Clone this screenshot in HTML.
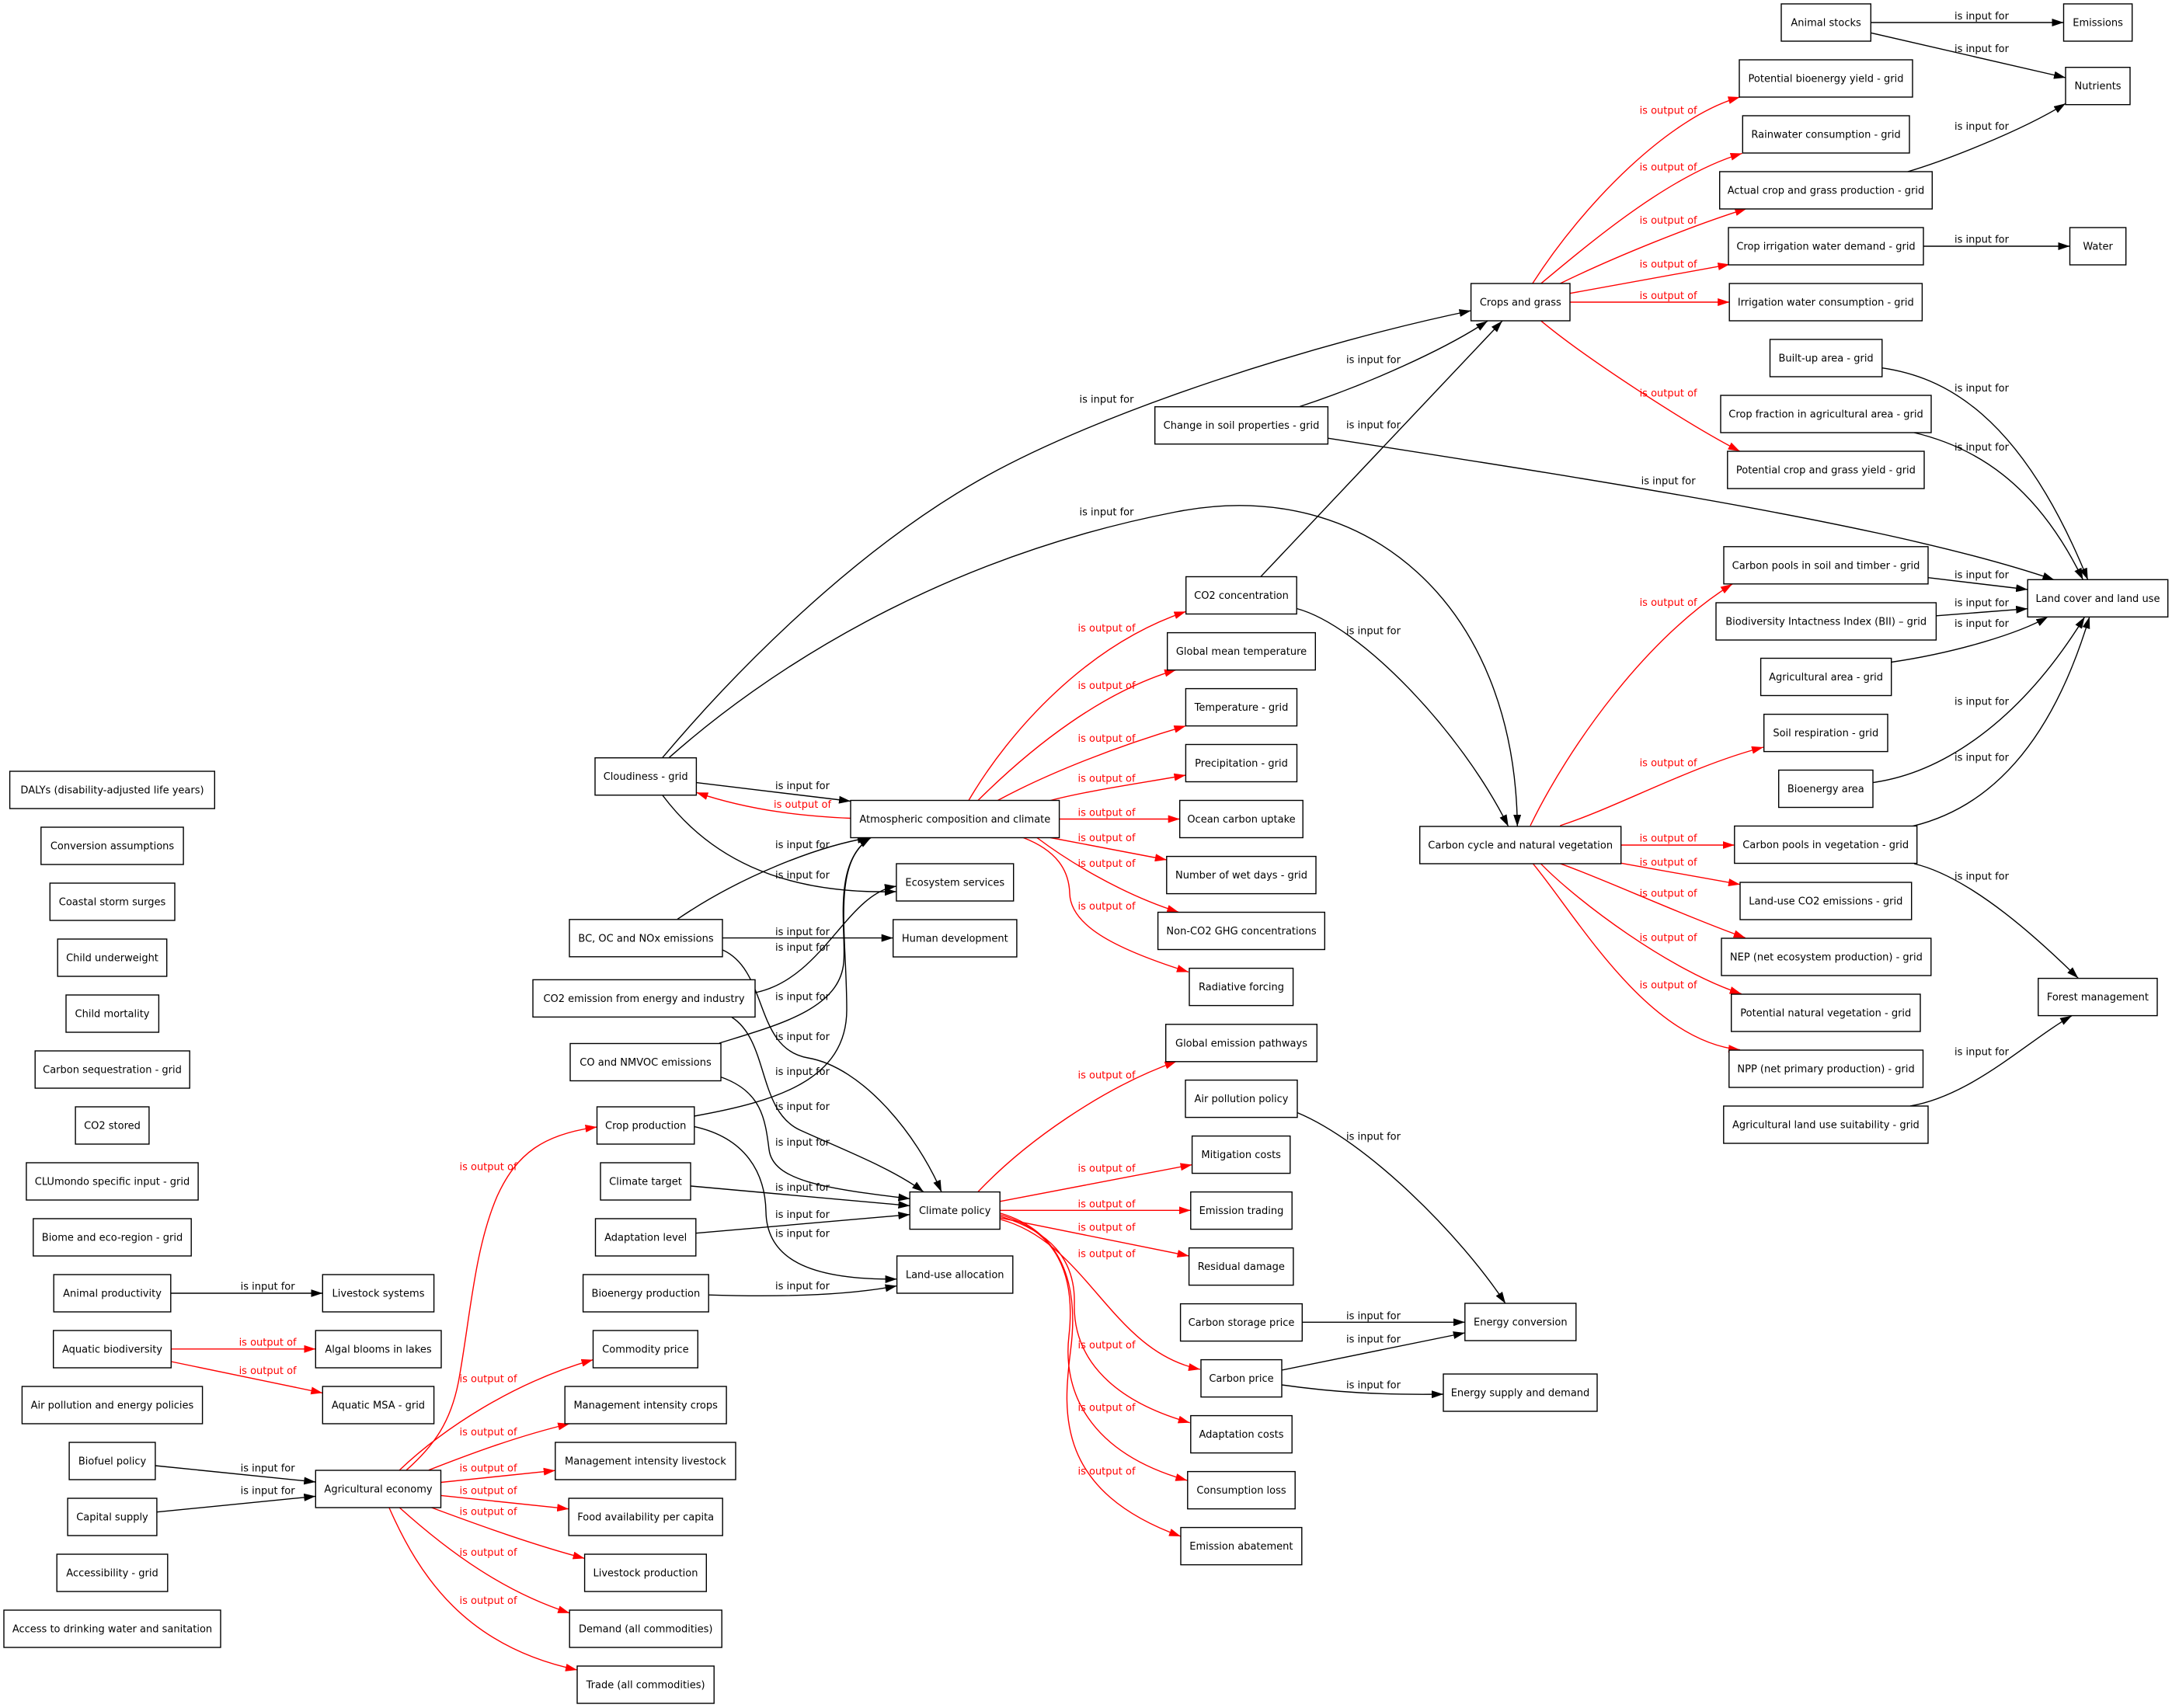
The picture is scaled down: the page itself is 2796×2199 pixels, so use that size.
<!DOCTYPE html>
<html><head><meta charset="utf-8"><style>
html,body{margin:0;padding:0;background:#fff;}
svg{display:block;}
text{font-family:"DejaVu Sans","Liberation Sans",sans-serif;font-size:13px;fill:#000;}
.n rect{fill:#fff;stroke:#000;stroke-width:1.4;}
.n text{text-anchor:middle;}
.l text{text-anchor:middle;}
.l .rt{fill:#f00;}
.e{fill:none;stroke:#000;stroke-width:1.4;marker-end:url(#ab);}
.r{fill:none;stroke:#f00;stroke-width:1.4;marker-end:url(#ar);}
</style></head><body>
<svg width="2796" height="2199" viewBox="0 0 2796 2199" xmlns="http://www.w3.org/2000/svg">
<defs>
<marker id="ab" viewBox="0 0 15 10" refX="15" refY="5" markerWidth="15" markerHeight="10" markerUnits="userSpaceOnUse" orient="auto"><path d="M0,0 L15,5 L0,10 z" fill="#000"/></marker>
<marker id="ar" viewBox="0 0 15 10" refX="15" refY="5" markerWidth="15" markerHeight="10" markerUnits="userSpaceOnUse" orient="auto"><path d="M0,0 L15,5 L0,10 z" fill="#f00"/></marker>
</defs>
<rect x="0" y="0" width="2796" height="2199" fill="#fff"/>

<!-- black edges -->
<path class="e" d="M2408.3,29 L2656.5,29"/>
<path class="e" d="M2408.3,42.3 L2659,100"/>
<path class="e" d="M2455.8,221 C2500,208 2600,170 2659,133.3"/>
<path class="e" d="M2476,317 L2664.5,317"/>
<path class="e" d="M2422.8,473.7 C2500,485 2600,530 2687.7,746.5"/>
<path class="e" d="M2464,557 C2540,575 2620,620 2681.5,746.5"/>
<path class="e" d="M1709.4,564.2 C2100,625 2450,680 2644.4,746.5"/>
<path class="e" d="M2482,743.7 L2610.2,759"/>
<path class="e" d="M2492.4,792.8 L2610.2,783.7"/>
<path class="e" d="M2434.7,852.5 C2520,840 2600,815 2636.2,794.2"/>
<path class="e" d="M2411.2,1007.5 C2500,995 2600,930 2683.6,794.2"/>
<path class="e" d="M2462.3,1063.6 C2560,1040 2640,960 2689.8,794.2"/>
<path class="e" d="M2464,1112 C2540,1130 2630,1215 2675.3,1259.4"/>
<path class="e" d="M2459,1424 C2540,1410 2610,1340 2667,1307.8"/>
<path class="e" d="M1671.5,524 C1760,495 1860,450 1915,413.3"/>
<path class="e" d="M1622.7,742.7 L1933.8,413.3"/>
<path class="e" d="M1669.2,783.5 C1750,805 1880,940 1941.7,1064"/>
<path class="e" d="M852.6,975.7 C950,860 1100,710 1259,619 C1418,528 1700,440 1893.6,400"/>
<path class="e" d="M861,975.7 C980,870 1200,720 1514,659 C1760,611 1950,780 1953.3,1064"/>
<path class="e" d="M896.4,1007.6 L1095,1031.5"/>
<path class="e" d="M853,1024 C910,1100 1000,1152 1153.9,1147.9"/>
<path class="e" d="M871.9,1183.6 C950,1130 1050,1090 1118.8,1078.5"/>
<path class="e" d="M930,1207.6 L1149.7,1207.6"/>
<path class="e" d="M930,1222.9 C990,1250 970,1350 1040,1362 C1110,1374 1180,1460 1212,1534.6"/>
<path class="e" d="M972.2,1278 C1060,1260 1090,1150 1153.9,1141"/>
<path class="e" d="M942,1309.6 C990,1340 975,1430 1030,1455 C1085,1480 1150,1505 1189,1534.6"/>
<path class="e" d="M925.9,1343 C1000,1320 1080,1300 1086,1240 C1090,1200 1070,1110 1121,1078.5"/>
<path class="e" d="M928,1386.6 C980,1405 985,1440 990,1480 C995,1520 1060,1530 1171.4,1543.3"/>
<path class="e" d="M893.6,1437 C1000,1418 1090,1390 1090,1300 C1090,1200 1070,1110 1121,1078.5"/>
<path class="e" d="M893.6,1450.4 C960,1465 985,1510 986,1560 C987,1620 1040,1648 1154.6,1646.8"/>
<path class="e" d="M889.4,1527 L1171.4,1552.4"/>
<path class="e" d="M895.7,1587.7 L1171.4,1563.7"/>
<path class="e" d="M911.9,1667.2 C1000,1670 1090,1668 1154.6,1655.5"/>
<path class="e" d="M1670,1432.5 C1760,1470 1880,1590 1938,1678.3"/>
<path class="e" d="M1676.3,1702.3 L1885.8,1702.3"/>
<path class="e" d="M1650,1764 L1885.8,1716"/>
<path class="e" d="M1650,1783 C1720,1793 1780,1796 1858,1795"/>
<path class="e" d="M219.8,1665 L415.3,1665"/>
<path class="e" d="M199.9,1887 L406.3,1908"/>
<path class="e" d="M201.9,1946.7 L406.3,1926.4"/>

<!-- red edges -->
<path class="r" d="M1972.8,365 C2040,260 2150,150 2239.7,125"/>
<path class="r" d="M1983.7,365 C2050,310 2150,225 2242.6,197.5"/>
<path class="r" d="M2008.4,365 C2080,330 2180,290 2248.4,268.6"/>
<path class="r" d="M2021,377.7 L2226.5,340.4"/>
<path class="r" d="M2021,389 L2226.2,389"/>
<path class="r" d="M1984,413.3 C2040,460 2170,545 2239.7,581"/>
<path class="r" d="M1970,1063 C2020,960 2120,820 2230,752"/>
<path class="r" d="M2008.3,1063 C2080,1040 2180,985 2270,962"/>
<path class="r" d="M2086.7,1088 L2232.8,1088"/>
<path class="r" d="M2086.7,1111.3 L2240,1138.7"/>
<path class="r" d="M2008.3,1111.8 C2060,1130 2170,1180 2246.7,1207.4"/>
<path class="r" d="M1983.3,1111.8 C2030,1160 2150,1250 2241.7,1279.5"/>
<path class="r" d="M1973.3,1111.8 C2030,1180 2120,1340 2240,1351.6"/>
<path class="r" d="M1247,1030.5 C1300,940 1400,830 1526.5,787.4"/>
<path class="r" d="M1259,1030.5 C1330,960 1420,890 1514,862.4"/>
<path class="r" d="M1284.4,1030.5 C1350,995 1440,960 1526.4,934.6"/>
<path class="r" d="M1352.4,1030.5 C1400,1018 1470,1008 1526.4,998"/>
<path class="r" d="M1363.6,1054.5 L1518.7,1054.5"/>
<path class="r" d="M1352.4,1078.5 L1501.8,1107"/>
<path class="r" d="M1334.9,1078.5 C1370,1105 1440,1150 1517.3,1174.4"/>
<path class="r" d="M1317.3,1078.5 C1360,1095 1376,1120 1377,1150 C1378,1190 1430,1220 1529.9,1251.4"/>
<path class="r" d="M1095,1053.5 C1040,1051 970,1045 896.4,1020.3"/>
<path class="r" d="M1259,1534.4 C1320,1470 1420,1400 1514.5,1366.5"/>
<path class="r" d="M1287.2,1546.8 L1534.6,1499.5"/>
<path class="r" d="M1287.2,1558.3 L1532.8,1558.3"/>
<path class="r" d="M1287.2,1567.9 L1530.6,1617"/>
<path class="r" d="M1288,1570 C1400,1600 1430,1740 1545,1763"/>
<path class="r" d="M1288,1566 C1350,1585 1385,1620 1383,1680 C1382,1740 1420,1800 1531.7,1831.7"/>
<path class="r" d="M1288,1564 C1360,1585 1385,1640 1376,1720 C1368,1790 1400,1870 1528.3,1906"/>
<path class="r" d="M1288,1562 C1365,1585 1390,1650 1378,1740 C1368,1820 1360,1920 1520,1978"/>
<path class="r" d="M523.2,1892.7 C560,1860 580,1830 590,1780 C605,1700 610,1610 640,1540 C665,1485 700,1460 768.5,1451"/>
<path class="r" d="M514.3,1892.7 C570,1840 660,1780 763.5,1750.6"/>
<path class="r" d="M552,1892.7 C610,1870 670,1848 733.2,1833"/>
<path class="r" d="M567.5,1908.5 L714.8,1893.2"/>
<path class="r" d="M567.5,1925.4 L732.2,1942.7"/>
<path class="r" d="M555.6,1941 C620,1965 690,1990 752.6,2006.4"/>
<path class="r" d="M514.3,1941 C580,2000 650,2050 733.2,2076.7"/>
<path class="r" d="M500.9,1941 C540,2030 600,2120 743,2150"/>
<path class="r" d="M220.3,1736.8 L406.3,1736.8"/>
<path class="r" d="M220.3,1753 L415.3,1793.4"/>

<!-- edge labels -->
<g class="l">
<text x="344.6" y="1660.5">is input for</text>
<text class="rt" x="344.6" y="1732.5">is output of</text>
<text class="rt" x="344.6" y="1768.8">is output of</text>
<text x="344.6" y="1894.5">is input for</text>
<text x="344.6" y="1923.5">is input for</text>

<text class="rt" x="628.5" y="1506.5">is output of</text>
<text class="rt" x="628.5" y="1779.5">is output of</text>
<text class="rt" x="628.5" y="1847.8">is output of</text>
<text class="rt" x="628.5" y="1894.7">is output of</text>
<text class="rt" x="628.5" y="1923.7">is output of</text>
<text class="rt" x="628.5" y="1950.5">is output of</text>
<text class="rt" x="628.5" y="2003.2">is output of</text>
<text class="rt" x="628.5" y="2064.9">is output of</text>

<text x="1033" y="1016.1">is input for</text>
<text class="rt" x="1033" y="1040.1">is output of</text>
<text x="1033" y="1092.2">is input for</text>
<text x="1033" y="1130.9">is input for</text>
<text x="1033" y="1203.9">is input for</text>
<text x="1033" y="1223.8">is input for</text>
<text x="1033" y="1287.5">is input for</text>
<text x="1033" y="1339.1">is input for</text>
<text x="1033" y="1384">is input for</text>
<text x="1033" y="1428.9">is input for</text>
<text x="1033" y="1474.8">is input for</text>
<text x="1033" y="1532.9">is input for</text>
<text x="1033" y="1568.2">is input for</text>
<text x="1033" y="1592.5">is input for</text>
<text x="1033" y="1660">is input for</text>

<text x="1424.5" y="518.5">is input for</text>
<text x="1424.5" y="663.5">is input for</text>
<text class="rt" x="1424.5" y="812.9">is output of</text>
<text class="rt" x="1424.5" y="886.8">is output of</text>
<text class="rt" x="1424.5" y="954.9">is output of</text>
<text class="rt" x="1424.5" y="1006.5">is output of</text>
<text class="rt" x="1424.5" y="1050.5">is output of</text>
<text class="rt" x="1424.5" y="1083">is output of</text>
<text class="rt" x="1424.5" y="1116.1">is output of</text>
<text class="rt" x="1424.5" y="1171.2">is output of</text>
<text class="rt" x="1424.5" y="1388.5">is output of</text>
<text class="rt" x="1424.5" y="1508.5">is output of</text>
<text class="rt" x="1424.5" y="1554.5">is output of</text>
<text class="rt" x="1424.5" y="1584.5">is output of</text>
<text class="rt" x="1424.5" y="1618.5">is output of</text>
<text class="rt" x="1424.5" y="1735.9">is output of</text>
<text class="rt" x="1424.5" y="1816.5">is output of</text>
<text class="rt" x="1424.5" y="1898.5">is output of</text>

<text x="1768" y="467.5">is input for</text>
<text x="1768" y="551.5">is input for</text>
<text x="1768" y="816.5">is input for</text>
<text x="1768" y="1467.5">is input for</text>
<text x="1768" y="1698.5">is input for</text>
<text x="1768" y="1728.5">is input for</text>
<text x="1768" y="1787.5">is input for</text>

<text class="rt" x="2147.6" y="146.5">is output of</text>
<text class="rt" x="2147.6" y="219.5">is output of</text>
<text class="rt" x="2147.6" y="288">is output of</text>
<text class="rt" x="2147.6" y="344.5">is output of</text>
<text class="rt" x="2147.6" y="385.1">is output of</text>
<text class="rt" x="2147.6" y="510.5">is output of</text>
<text x="2147.6" y="623.5">is input for</text>
<text class="rt" x="2147.6" y="780">is output of</text>
<text class="rt" x="2147.6" y="986.5">is output of</text>
<text class="rt" x="2147.6" y="1083.5">is output of</text>
<text class="rt" x="2147.6" y="1114.5">is output of</text>
<text class="rt" x="2147.6" y="1154.5">is output of</text>
<text class="rt" x="2147.6" y="1211.5">is output of</text>
<text class="rt" x="2147.6" y="1272.5">is output of</text>

<text x="2551" y="25.2">is input for</text>
<text x="2551" y="66.8">is input for</text>
<text x="2551" y="167.2">is input for</text>
<text x="2551" y="312.5">is input for</text>
<text x="2551" y="504.1">is input for</text>
<text x="2551" y="579.9">is input for</text>
<text x="2551" y="744.5">is input for</text>
<text x="2551" y="780.5">is input for</text>
<text x="2551" y="807.2">is input for</text>
<text x="2551" y="907.5">is input for</text>
<text x="2551" y="979.5">is input for</text>
<text x="2551" y="1132.5">is input for</text>
<text x="2551" y="1358.5">is input for</text>
</g>

<!-- nodes -->
<g class="n">
<!-- rank 0 -->
<rect x="12.6" y="993" width="263.7" height="48"/><text x="144.5" y="1021.5">DALYs (disability-adjusted life years)</text>
<rect x="52.8" y="1065" width="183.3" height="48"/><text x="144.5" y="1093.5">Conversion assumptions</text>
<rect x="64.3" y="1137" width="160.7" height="48"/><text x="144.5" y="1165.5">Coastal storm surges</text>
<rect x="74.2" y="1209" width="140.5" height="48"/><text x="144.5" y="1237.5">Child underweight</text>
<rect x="85" y="1281" width="119.4" height="48"/><text x="144.5" y="1309.5">Child mortality</text>
<rect x="45.2" y="1353" width="199" height="48"/><text x="144.5" y="1381.5">Carbon sequestration - grid</text>
<rect x="97.1" y="1425" width="94.8" height="48"/><text x="144.5" y="1453.5">CO2 stored</text>
<rect x="33.9" y="1497" width="221.2" height="48"/><text x="144.5" y="1525.5">CLUmondo specific input - grid</text>
<rect x="42.8" y="1569" width="203.4" height="48"/><text x="144.5" y="1597.5">Biome and eco-region - grid</text>
<rect x="69.2" y="1641" width="150.6" height="48"/><text x="144.5" y="1669.5">Animal productivity</text>
<rect x="68.7" y="1713" width="151.6" height="48"/><text x="144.5" y="1741.5">Aquatic biodiversity</text>
<rect x="28.4" y="1785" width="232.2" height="48"/><text x="144.5" y="1813.5">Air pollution and energy policies</text>
<rect x="89.1" y="1857" width="110.8" height="48"/><text x="144.5" y="1885.5">Biofuel policy</text>
<rect x="87.1" y="1929" width="114.8" height="48"/><text x="144.5" y="1957.5">Capital supply</text>
<rect x="73.2" y="2001" width="142.6" height="48"/><text x="144.5" y="2029.5">Accessibility - grid</text>
<rect x="5" y="2073" width="279" height="48"/><text x="144.5" y="2101.5">Access to drinking water and sanitation</text>

<!-- rank 1 -->
<rect x="415.3" y="1641" width="143.3" height="48"/><text x="487" y="1669.5">Livestock systems</text>
<rect x="406.3" y="1713" width="161.7" height="48"/><text x="487" y="1741.5">Algal blooms in lakes</text>
<rect x="415.3" y="1785" width="143.3" height="48"/><text x="487" y="1813.5">Aquatic MSA - grid</text>
<rect x="406.3" y="1893" width="161.2" height="48"/><text x="487" y="1921.5">Agricultural economy</text>

<!-- rank 2 -->
<rect x="766" y="975.7" width="130.4" height="48"/><text x="831.2" y="1004.2">Cloudiness - grid</text>
<rect x="733" y="1183.8" width="197" height="48"/><text x="831.5" y="1212.3">BC, OC and NOx emissions</text>
<rect x="686" y="1261.4" width="286" height="48"/><text x="829" y="1289.9">CO2 emission from energy and industry</text>
<rect x="734" y="1343.5" width="194" height="48"/><text x="831" y="1372">CO and NMVOC emissions</text>
<rect x="768.5" y="1425" width="125.3" height="48"/><text x="831.2" y="1453.5">Crop production</text>
<rect x="773" y="1497" width="116" height="48"/><text x="831" y="1525.5">Climate target</text>
<rect x="766.5" y="1569" width="129.3" height="48"/><text x="831.2" y="1597.5">Adaptation level</text>
<rect x="750.6" y="1641" width="161.6" height="48"/><text x="831.4" y="1669.5">Bioenergy production</text>
<rect x="763.5" y="1713" width="134.8" height="48"/><text x="830.9" y="1741.5">Commodity price</text>
<rect x="727.2" y="1785" width="207.9" height="48"/><text x="831.2" y="1813.5">Management intensity crops</text>
<rect x="714.8" y="1857" width="232.2" height="48"/><text x="830.9" y="1885.5">Management intensity livestock</text>
<rect x="732.2" y="1929" width="198" height="48"/><text x="831.2" y="1957.5">Food availability per capita</text>
<rect x="752.6" y="2001" width="156.7" height="48"/><text x="831" y="2029.5">Livestock production</text>
<rect x="733.2" y="2073" width="196" height="48"/><text x="831.2" y="2101.5">Demand (all commodities)</text>
<rect x="743" y="2145" width="176.2" height="48"/><text x="831.1" y="2173.5">Trade (all commodities)</text>

<!-- rank 3 -->
<rect x="1095" y="1030.5" width="268.6" height="48"/><text x="1229.3" y="1059">Atmospheric composition and climate</text>
<rect x="1153.9" y="1112" width="150.8" height="48"/><text x="1229.3" y="1140.5">Ecosystem services</text>
<rect x="1149.7" y="1184" width="159.2" height="48"/><text x="1229.3" y="1212.5">Human development</text>
<rect x="1171.2" y="1534.6" width="116" height="48"/><text x="1229.2" y="1563.1">Climate policy</text>
<rect x="1154.6" y="1617" width="149.2" height="48"/><text x="1229.2" y="1645.5">Land-use allocation</text>

<!-- rank 4 -->
<rect x="1486.7" y="523.7" width="222.7" height="48"/><text x="1598" y="552.2">Change in soil properties - grid</text>
<rect x="1526.7" y="742.5" width="142.5" height="48"/><text x="1598" y="771">CO2 concentration</text>
<rect x="1502.7" y="814.6" width="190.6" height="48"/><text x="1598" y="843.1">Global mean temperature</text>
<rect x="1526.4" y="886.6" width="143.1" height="48"/><text x="1598" y="915.1">Temperature - grid</text>
<rect x="1526.4" y="958.5" width="143.1" height="48"/><text x="1598" y="987">Precipitation - grid</text>
<rect x="1518.7" y="1030.5" width="158.5" height="48"/><text x="1598" y="1059">Ocean carbon uptake</text>
<rect x="1501.8" y="1102.6" width="192.2" height="48"/><text x="1598" y="1131.1">Number of wet days - grid</text>
<rect x="1490.6" y="1174.5" width="214.7" height="48"/><text x="1598" y="1203">Non-CO2 GHG concentrations</text>
<rect x="1531" y="1246.6" width="133.6" height="48"/><text x="1598" y="1275.1">Radiative forcing</text>
<rect x="1500.7" y="1318.8" width="194.6" height="48"/><text x="1598" y="1347.3">Global emission pathways</text>
<rect x="1526" y="1390.6" width="144" height="48"/><text x="1598" y="1419.1">Air pollution policy</text>
<rect x="1534.6" y="1462.6" width="126.2" height="48"/><text x="1597.7" y="1491.1">Mitigation costs</text>
<rect x="1532.8" y="1534.6" width="130.4" height="48"/><text x="1598" y="1563.1">Emission trading</text>
<rect x="1530.6" y="1606.6" width="134.3" height="48"/><text x="1597.8" y="1635.1">Residual damage</text>
<rect x="1519.6" y="1678.6" width="156.7" height="48"/><text x="1598" y="1707.1">Carbon storage price</text>
<rect x="1546" y="1750.6" width="104" height="48"/><text x="1598" y="1779.1">Carbon price</text>
<rect x="1532.8" y="1822.6" width="130.4" height="48"/><text x="1598" y="1851.1">Adaptation costs</text>
<rect x="1528.8" y="1894.6" width="138.4" height="48"/><text x="1598" y="1923.1">Consumption loss</text>
<rect x="1520" y="1966.6" width="155.8" height="48"/><text x="1597.9" y="1995.1">Emission abatement</text>

<!-- rank 5 -->
<rect x="1893.6" y="365" width="127.4" height="48"/><text x="1957.3" y="393.5">Crops and grass</text>
<rect x="1827.7" y="1064" width="259" height="48"/><text x="1957.2" y="1092.5">Carbon cycle and natural vegetation</text>
<rect x="1885.8" y="1678" width="143" height="48"/><text x="1957.3" y="1706.5">Energy conversion</text>
<rect x="1858" y="1769" width="198" height="48"/><text x="1957" y="1797.5">Energy supply and demand</text>

<!-- rank 6 -->
<rect x="2293" y="5" width="115.3" height="48"/><text x="2350.6" y="33.5">Animal stocks</text>
<rect x="2239" y="77" width="223" height="48"/><text x="2350.5" y="105.5">Potential bioenergy yield - grid</text>
<rect x="2243.3" y="149" width="214.7" height="48"/><text x="2350.6" y="177.5">Rainwater consumption - grid</text>
<rect x="2213.7" y="221" width="273.6" height="48"/><text x="2350.5" y="249.5">Actual crop and grass production - grid</text>
<rect x="2225" y="293" width="251" height="48"/><text x="2350.5" y="321.5">Crop irrigation water demand - grid</text>
<rect x="2226.2" y="365" width="248.2" height="48"/><text x="2350.3" y="393.5">Irrigation water consumption - grid</text>
<rect x="2278.5" y="437" width="144.3" height="48"/><text x="2350.6" y="465.5">Built-up area - grid</text>
<rect x="2215" y="509" width="271" height="48"/><text x="2350.5" y="537.5">Crop fraction in agricultural area - grid</text>
<rect x="2223.8" y="581" width="253.2" height="48"/><text x="2350.4" y="609.5">Potential crop and grass yield - grid</text>
<rect x="2219" y="703.8" width="263" height="48"/><text x="2350.5" y="732.3">Carbon pools in soil and timber - grid</text>
<rect x="2209" y="776" width="283.4" height="48"/><text x="2350.7" y="804.5">Biodiversity Intactness Index (BII) – grid</text>
<rect x="2266.6" y="847.5" width="168.1" height="48"/><text x="2350.6" y="876">Agricultural area - grid</text>
<rect x="2270.7" y="919.6" width="159.3" height="48"/><text x="2350.3" y="948.1">Soil respiration - grid</text>
<rect x="2289.7" y="991.5" width="121.3" height="48"/><text x="2350.3" y="1020">Bioenergy area</text>
<rect x="2232.8" y="1063.5" width="234.9" height="48"/><text x="2350.2" y="1092">Carbon pools in vegetation - grid</text>
<rect x="2240" y="1136" width="220.7" height="48"/><text x="2350.3" y="1164.5">Land-use CO2 emissions - grid</text>
<rect x="2216" y="1208" width="269.8" height="48"/><text x="2350.9" y="1236.5">NEP (net ecosystem production) - grid</text>
<rect x="2228.7" y="1280" width="243.3" height="48"/><text x="2350.3" y="1308.5">Potential natural vegetation - grid</text>
<rect x="2225.8" y="1352" width="249.7" height="48"/><text x="2350.6" y="1380.5">NPP (net primary production) - grid</text>
<rect x="2218.8" y="1424" width="263.2" height="48"/><text x="2350.4" y="1452.5">Agricultural land use suitability - grid</text>

<!-- rank 7 -->
<rect x="2656.5" y="5" width="88.2" height="48"/><text x="2700.6" y="33.5">Emissions</text>
<rect x="2659" y="86.7" width="83" height="48"/><text x="2700.5" y="115.2">Nutrients</text>
<rect x="2664.5" y="293" width="72.2" height="48"/><text x="2700.6" y="321.5">Water</text>
<rect x="2610.2" y="746.3" width="180.5" height="48"/><text x="2700.5" y="774.8">Land cover and land use</text>
<rect x="2623.8" y="1259.6" width="153.2" height="48"/><text x="2700.4" y="1288.1">Forest management</text>
</g>
</svg>
</body></html>
